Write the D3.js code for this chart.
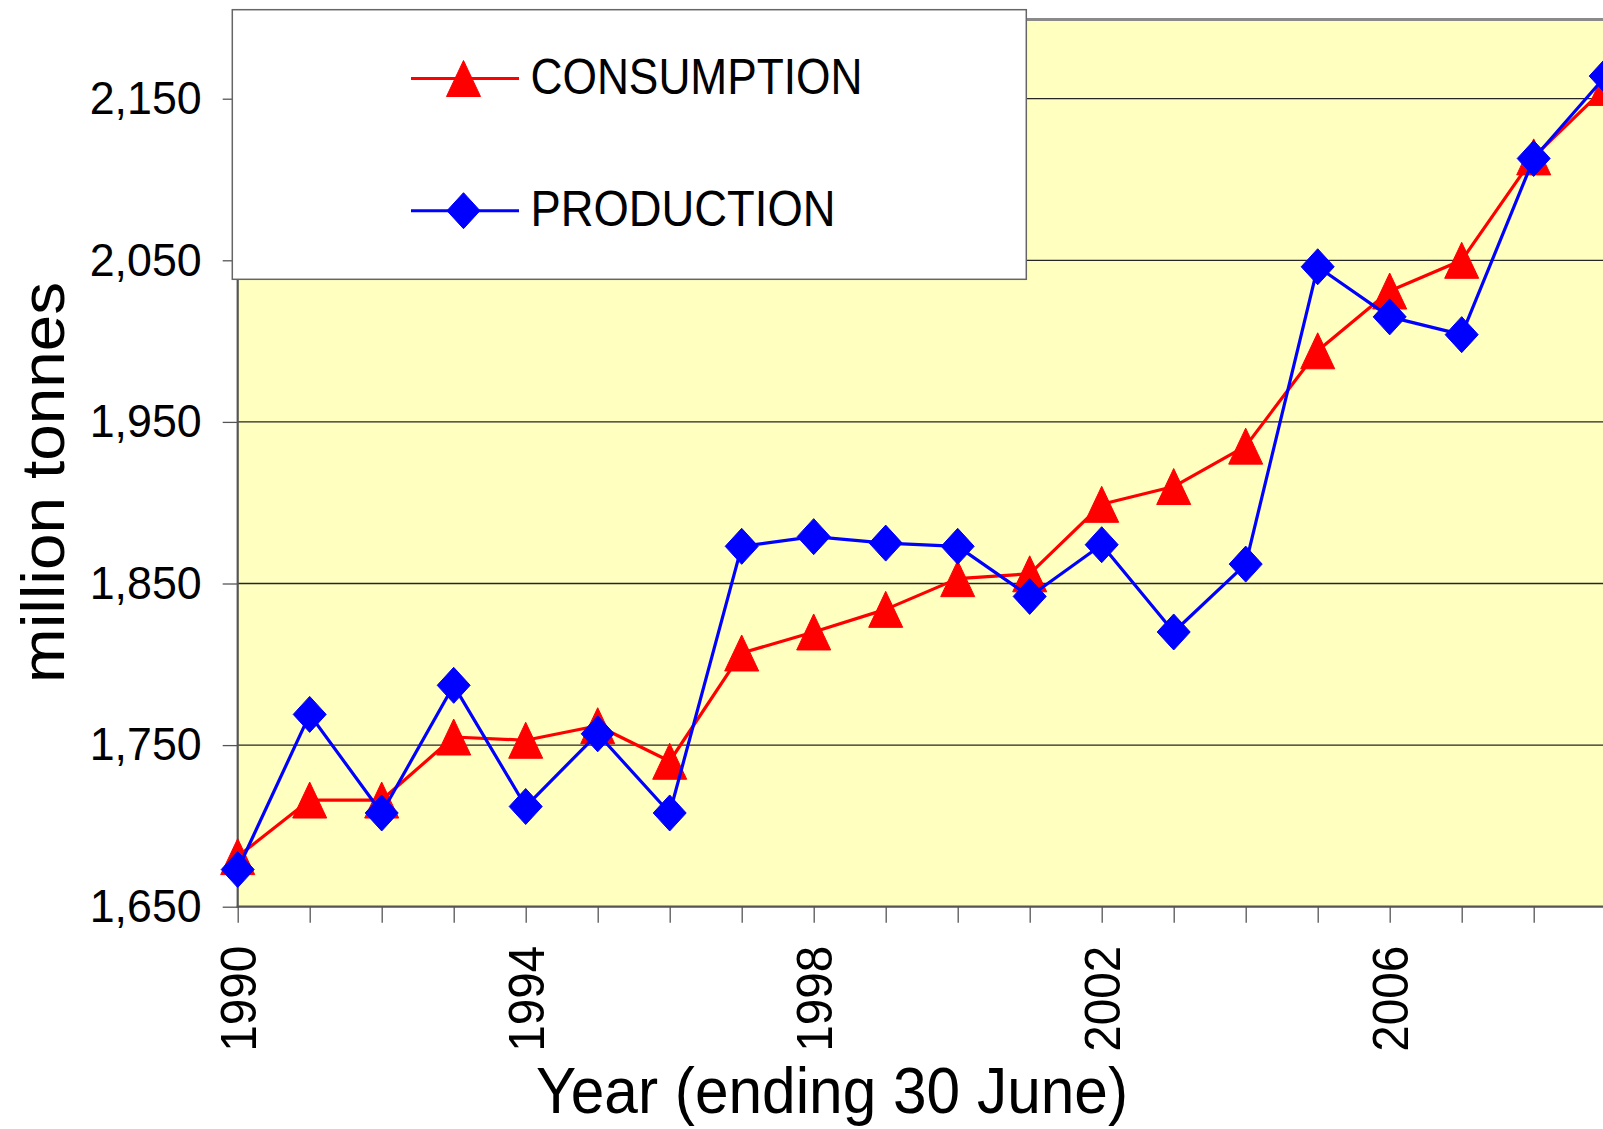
<!DOCTYPE html>
<html>
<head>
<meta charset="utf-8">
<script src="https://cdn.jsdelivr.net/npm/d3@7"></script>
<style>
  html, body { margin: 0; padding: 0; background: #fff; }
  svg { display: block; font-family: "Liberation Sans", Arial, sans-serif; }
</style>
</head>
<body>
<svg id="chart" width="1603" height="1129"></svg>
<script>
// ---- data ----
const years = [1990,1991,1992,1993,1994,1995,1996,1997,1998,1999,2000,2001,2002,2003,2004,2005,2006,2007,2008,2009];
const consumption = [1681,1716,1716,1755,1753,1762,1740,1807,1820,1834,1853,1856,1899,1910,1935,1994,2031,2050,2114,2157];
const production  = [1673,1769,1708,1787,1712,1757,1708,1873,1879,1875,1873,1842,1874,1820,1862,2046,2015,2004,2113,2164];
const yTicks = [1650,1750,1850,1950,2050,2150];
const xLabelYears = [1990,1994,1998,2002,2006];
const seriesNames = ["CONSUMPTION","PRODUCTION"];
const yTitle = "million tonnes";
const xTitle = "Year (ending 30 June)";

// ---- layout ----
const W = 1603, H = 1129;
const left = 237.7, bottom = 906.7;
const svg = d3.select("#chart");

const x = d3.scaleLinear().domain([1990, 2009]).range([left, left + 19 * 72]);
const y = d3.scaleLinear().domain([1650, 2150]).range([bottom, 98.7]);
const yTop = y(2200);

// plot background
svg.append("rect")
  .attr("x", left).attr("y", yTop)
  .attr("width", W - left + 20).attr("height", bottom - yTop)
  .attr("fill", "#FFFFC0");

// gridlines
svg.append("g").selectAll("line")
  .data(yTicks.filter(d => d > 1650))
  .join("line")
  .attr("x1", left).attr("x2", W + 10)
  .attr("y1", d => y(d)).attr("y2", d => y(d))
  .attr("stroke", "#262626").attr("stroke-width", 1.3);

// top border
svg.append("line")
  .attr("x1", left).attr("x2", W + 10)
  .attr("y1", yTop + 1.5).attr("y2", yTop + 1.5)
  .attr("stroke", "#8a8a8a").attr("stroke-width", 3);

// y axis
const yAxis = svg.append("g")
  .attr("transform", `translate(${left},0)`)
  .call(d3.axisLeft(y).tickValues(yTicks).tickSize(15).tickSizeOuter(0)
        .tickPadding(21).tickFormat(d3.format(",")));
yAxis.select(".domain").remove();
yAxis.append("line").attr("x1", 0).attr("x2", 0).attr("y1", yTop).attr("y2", bottom + 1)
  .attr("stroke", "#555").attr("stroke-width", 2.2);
yAxis.selectAll(".tick line").attr("stroke", "#555").attr("stroke-width", 1.3);
yAxis.selectAll(".tick text")
  .attr("fill", "#000")
  .style("font-size", "46px")
  .attr("textLength", 112).attr("lengthAdjust", "spacingAndGlyphs");

// x axis
const xAxis = svg.append("g")
  .attr("transform", `translate(0,${bottom})`)
  .call(d3.axisBottom(x).tickValues(years).tickSize(16).tickSizeOuter(0)
        .tickFormat(d => xLabelYears.includes(d) ? String(d) : ""));
xAxis.select(".domain").remove();
xAxis.append("line").attr("x1", left - 1).attr("x2", W + 10).attr("y1", 0).attr("y2", 0)
  .attr("stroke", "#555").attr("stroke-width", 2.2);
xAxis.selectAll(".tick line").attr("stroke", "#555").attr("stroke-width", 1.3);
xAxis.selectAll(".tick text")
  .attr("fill", "#000")
  .style("font-size", "50px")
  .style("text-anchor", "end")
  .attr("transform", "rotate(-90)")
  .attr("x", -39).attr("y", 0).attr("dy", "0.36em")
  .each(function() { if (this.textContent) d3.select(this).attr("textLength", 106).attr("lengthAdjust", "spacingAndGlyphs"); });

// markers
const triPath = "M0,-18L17,18L-17,18Z";
const diaPath = "M0,-18L16.5,0L0,18L-16.5,0Z";

function drawSeries(vals, color, markerPath) {
  const line = d3.line().x((d, i) => x(years[i])).y(d => y(d));
  svg.append("path").datum(vals)
    .attr("d", line).attr("fill", "none")
    .attr("stroke", color).attr("stroke-width", 3.2).attr("stroke-linejoin", "round");
  svg.append("g").selectAll("path")
    .data(vals).join("path")
    .attr("d", markerPath)
    .attr("transform", (d, i) => `translate(${x(years[i])},${y(d)})`)
    .attr("fill", color).attr("stroke", color).attr("stroke-width", 1).attr("stroke-linejoin", "round");
}
drawSeries(consumption, "#FF0000", triPath);
drawSeries(production, "#0000FF", diaPath);

// legend
const lg = svg.append("g");
lg.append("rect")
  .attr("x", 232.3).attr("y", 9.7).attr("width", 794).attr("height", 269.6)
  .attr("fill", "#fff").attr("stroke", "#666").attr("stroke-width", 1.5);
const legendItems = [
  { name: seriesNames[0], color: "#FF0000", path: triPath, ly: 78.5, tx: 530.5, tb: 94, tl: 332 },
  { name: seriesNames[1], color: "#0000FF", path: diaPath, ly: 210.7, tx: 530.5, tb: 226, tl: 305 }
];
legendItems.forEach(it => {
  lg.append("line").attr("x1", 411).attr("x2", 519).attr("y1", it.ly).attr("y2", it.ly)
    .attr("stroke", it.color).attr("stroke-width", 3);
  lg.append("path").attr("d", it.path).attr("transform", `translate(463.5,${it.ly})`)
    .attr("fill", it.color).attr("stroke", it.color).attr("stroke-width", 1);
  lg.append("text").attr("x", it.tx).attr("y", it.tb)
    .style("font-size", "50px").attr("fill", "#000")
    .attr("textLength", it.tl).attr("lengthAdjust", "spacingAndGlyphs")
    .text(it.name);
});

// axis titles
svg.append("text")
  .attr("transform", "translate(64,482.5) rotate(-90)")
  .style("font-size", "62px").style("text-anchor", "middle")
  .attr("textLength", 401).attr("lengthAdjust", "spacingAndGlyphs")
  .text(yTitle);

svg.append("text")
  .attr("x", 536).attr("y", 1113)
  .style("font-size", "64px")
  .attr("textLength", 592).attr("lengthAdjust", "spacingAndGlyphs")
  .text(xTitle);
</script>
</body>
</html>
